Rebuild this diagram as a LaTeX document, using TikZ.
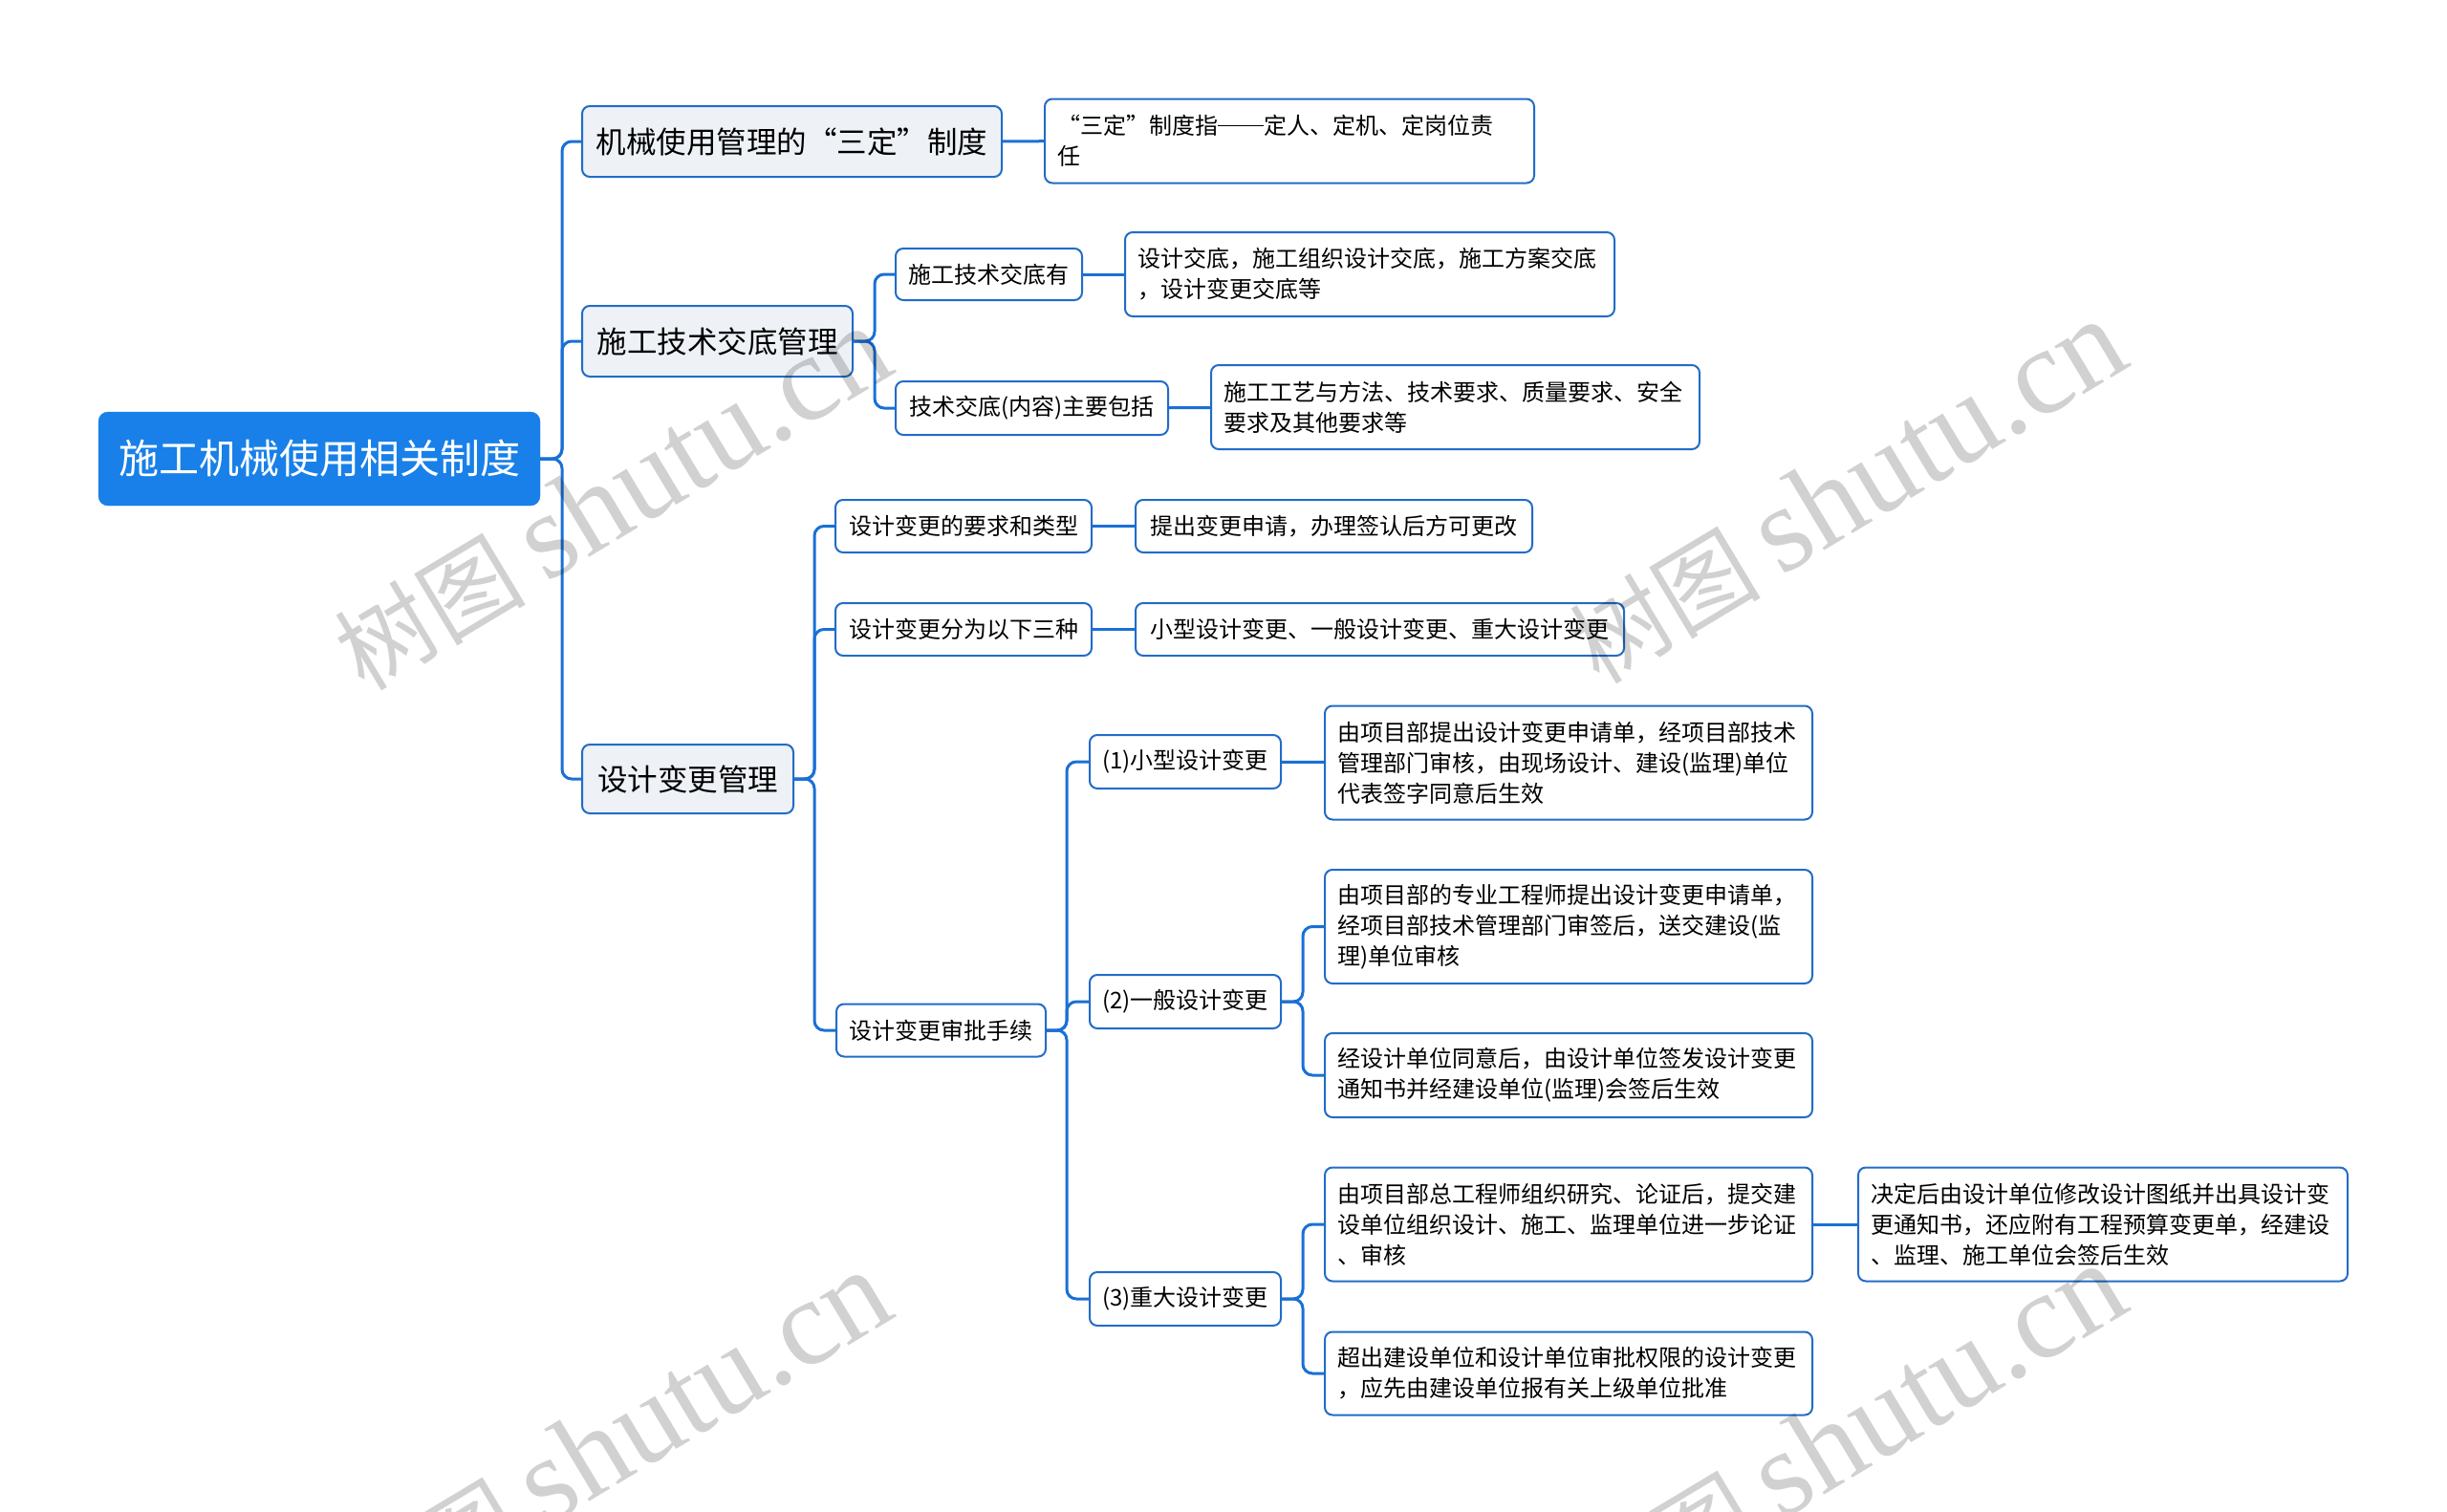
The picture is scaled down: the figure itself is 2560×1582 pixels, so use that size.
\documentclass[tikz,border=0pt]{standalone}
\usepackage{fontspec}
\setmainfont{Noto Sans CJK SC}
\newfontfamily\wmcjk{Noto Sans CJK SC}
\newfontfamily\wmlat{Liberation Serif}
\definecolor{rootc}{RGB}{24,128,232}
\definecolor{linec}{RGB}{26,112,214}
\definecolor{bordc}{RGB}{34,108,200}
\definecolor{lvc}{RGB}{238,242,247}
\newcommand\oq{\makebox[1em][r]{“}}
\newcommand\cq{\makebox[1em][l]{”}}
\newcommand\cjkdash{\rule[0.36em]{2em}{0.055em}}
\newcommand\wmtext{{\fontsize{100}{100}\selectfont\wmcjk 树图}\hspace{22pt}{\fontsize{128}{128}\selectfont\wmlat shutu.cn}}
\tikzset{
  box/.style={draw=bordc, line width=2pt, rounded corners=8pt, fill=white, inner sep=0pt,
    text=black, font=\fontsize{24}{32}\selectfont, minimum height=55pt},
  leaf/.style={box, inner xsep=13pt, align=left},
  lone/.style={box, fill=lvc, font=\fontsize{31.5}{40}\selectfont, minimum height=74pt},
  rootn/.style={fill=rootc, draw=rootc, rounded corners=10pt, text=white,
    font=\fontsize{42}{50}\selectfont, minimum width=462pt, minimum height=98pt, inner sep=0pt},
  conn/.style={draw=linec, line width=3pt, rounded corners=10pt},
  wm/.style={text=black, text opacity=0.18, rotate=31, inner sep=0pt}
}
\begin{document}
\begin{tikzpicture}[x=1pt,y=-1pt]
\useasboundingbox (0,0) rectangle (2560,1582);
\fill[white] (0,0) rectangle (2560,1582);
% root
\node[rootn] (root) at (334,480) {施工机械使用相关制度};
% level 1
\node[lone, minimum width=439pt] (a) at (828.5,148) {机械使用管理的\oq 三定\cq 制度};
\node[lone, minimum width=283pt] (b) at (750.5,357) {施工技术交底管理};
\node[lone, minimum width=221pt, minimum height=72pt] (c) at (719.5,815) {设计变更管理};
% branch a
\node[leaf, text width=486pt, minimum height=88pt] (a1) at (1349,147.5) {\oq 三定\cq 制度指\cjkdash 定人、定机、定岗位责\\任};
% branch b
\node[box, minimum width=195pt, minimum height=54pt] (b1) at (1034.5,287) {施工技术交底有};
\node[box, minimum width=285pt, minimum height=56pt] (b2) at (1079.5,427) {技术交底(内容)主要包括};
\node[leaf, text width=486pt, minimum height=88pt] (b1l) at (1433,287) {设计交底，施工组织设计交底，施工方案交底\\，设计变更交底等};
\node[leaf, text width=485pt, minimum height=88pt] (b2l) at (1522.5,426) {施工工艺与方法、技术要求、质量要求、安全\\要求及其他要求等};
% branch c
\node[box, minimum width=268pt] (c1) at (1008,550.5) {设计变更的要求和类型};
\node[box, minimum width=268pt] (c2) at (1008,658.5) {设计变更分为以下三种};
\node[box, minimum width=219pt] (c3) at (984.5,1078) {设计变更审批手续};
\node[box, minimum width=415pt] (c1l) at (1395.5,550.5) {提出变更申请，办理签认后方可更改};
\node[box, minimum width=511pt] (c2l) at (1443.5,658.5) {小型设计变更、一般设计变更、重大设计变更};
\node[box, minimum width=200pt, minimum height=56pt] (d1) at (1240,797) {(1)小型设计变更};
\node[box, minimum width=200pt, minimum height=56pt] (d2) at (1240,1048) {(2)一般设计变更};
\node[box, minimum width=200pt, minimum height=56pt] (d3) at (1240,1359) {(3)重大设计变更};
\node[leaf, text width=484pt, minimum height=119pt] (s1) at (1641,798) {由项目部提出设计变更申请单，经项目部技术\\管理部门审核，由现场设计、建设(监理)单位\\代表签字同意后生效};
\node[leaf, text width=484pt, minimum height=119pt] (g1) at (1641,969.5) {由项目部的专业工程师提出设计变更申请单，\\经项目部技术管理部门审签后，送交建设(监\\理)单位审核};
\node[leaf, text width=484pt, minimum height=88pt] (g2) at (1641,1125) {经设计单位同意后，由设计单位签发设计变更\\通知书并经建设单位(监理)会签后生效};
\node[leaf, text width=484pt, minimum height=119pt] (m1) at (1641,1281) {由项目部总工程师组织研究、论证后，提交建\\设单位组织设计、施工、监理单位进一步论证\\、审核};
\node[leaf, text width=484pt, minimum height=87pt] (m2) at (1641,1437) {超出建设单位和设计单位审批权限的设计变更\\，应先由建设单位报有关上级单位批准};
\node[leaf, text width=486pt, minimum height=119pt] (m1c) at (2200,1281) {决定后由设计单位修改设计图纸并出具设计变\\更通知书，还应附有工程预算变更单，经建设\\、监理、施工单位会签后生效};
% trunks
\coordinate (T0) at (588,0);
\coordinate (T1) at (915,0);
\coordinate (T2) at (852,0);
\coordinate (T3) at (1116,0);
\coordinate (T4) at (1363,0);
\foreach \ch in {a,b,c} \draw[conn] (root.east) -- (root.east -| T0) |- (\ch.west);
\foreach \ch in {b1,b2} \draw[conn] (b.east) -- (b.east -| T1) |- (\ch.west);
\foreach \ch in {c1,c2,c3} \draw[conn] (c.east) -- (c.east -| T2) |- (\ch.west);
\foreach \ch in {d1,d2,d3} \draw[conn] (c3.east) -- (c3.east -| T3) |- (\ch.west);
\foreach \ch in {g1,g2} \draw[conn] (d2.east) -- (d2.east -| T4) |- (\ch.west);
\foreach \ch in {m1,m2} \draw[conn] (d3.east) -- (d3.east -| T4) |- (\ch.west);
\draw[conn] (a) -- (a1);
\draw[conn] (b1) -- (b1l);
\draw[conn] (b2) -- (b2l);
\draw[conn] (c1) -- (c1l);
\draw[conn] (c2) -- (c2l);
\draw[conn] (d1) -- (s1);
\draw[conn] (m1) -- (m1c);
% watermarks
\node[wm] (w1) at (640,522) {\wmtext};
\node[wm] (w2) at (1932,515) {\wmtext};
\node[wm] (w3) at (640,1510) {\wmtext};
\node[wm] (w4) at (1932,1503) {\wmtext};
\end{tikzpicture}
\end{document}
